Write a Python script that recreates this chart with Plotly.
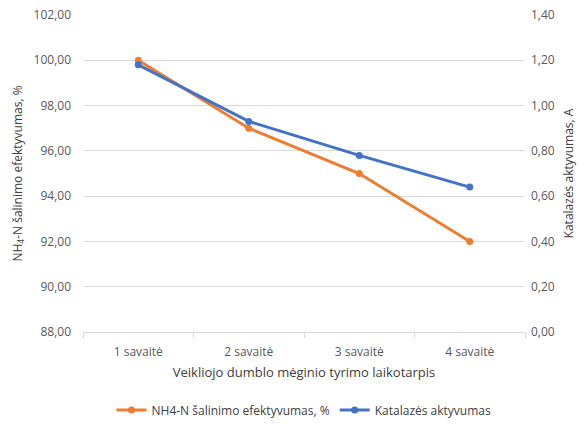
import plotly.graph_objects as go

categories = ["1 savaitė", "2 savaitė", "3 savaitė", "4 savaitė"]
nh4_removal = [100.0, 97.0, 95.0, 92.0]
catalase = [1.18, 0.93, 0.78, 0.64]
left_ticks = [88, 90, 92, 94, 96, 98, 100, 102]
right_ticks = [0, 0.2, 0.4, 0.6, 0.8, 1.0, 1.2, 1.4]

orange = "#ED7D31"
blue = "#4472C4"
font_family = "Open Sans, Liberation Sans, sans-serif"

fig = go.Figure()
fig.add_trace(go.Scatter(
    x=categories, y=nh4_removal, name="NH4-N šalinimo efektyvumas, %",
    mode="lines+markers", line=dict(color=orange, width=3),
    marker=dict(size=7, color=orange), yaxis="y"))
fig.add_trace(go.Scatter(
    x=categories, y=catalase, name="Katalazės aktyvumas",
    mode="lines+markers", line=dict(color=blue, width=3),
    marker=dict(size=7, color=blue), yaxis="y2"))

fig.update_layout(
    width=586, height=425,
    margin=dict(l=83, r=61, t=15, b=93, autoexpand=False),
    paper_bgcolor="white", plot_bgcolor="white",
    separators=",.",
    font=dict(family=font_family, size=12, color="#595959"),
    xaxis=dict(
        type="category", range=[-0.5, 3.5],
        tickson="boundaries", ticks="outside",
        ticklen=5, tickcolor="#D9D9D9",
        showline=True, linecolor="#D9D9D9", linewidth=1,
        showgrid=False, ticklabelstandoff=9,
        title=dict(text="Veikliojo dumblo mėginio tyrimo laikotarpis",
                   font=dict(size=13, color="#404040"), standoff=8),
        tickfont=dict(size=12, color="#595959"),
    ),
    yaxis=dict(
        range=[88, 102], tickvals=left_ticks, tickformat=".2f",
        showgrid=True, gridcolor="#D9D9D9", gridwidth=1,
        zeroline=False, showline=False, ticklabelstandoff=11,
        title=dict(text="NH<sub>4</sub>-N šalinimo efektyvumas, %",
                   font=dict(size=12, color="#404040"), standoff=8),
        tickfont=dict(size=12, color="#595959"),
    ),
    yaxis2=dict(
        range=[0, 1.4], tickvals=right_ticks, tickformat=".2f",
        overlaying="y", side="right", showgrid=False, zeroline=False,
        ticklabelstandoff=5,
        title=dict(text="Katalazės aktyvumas, A",
                   font=dict(size=12, color="#404040"), standoff=10),
        tickfont=dict(size=12, color="#595959"),
    ),
    legend=dict(orientation="h", x=0.5, xanchor="center", y=-0.2,
                yanchor="top", font=dict(size=12, color="#404040"),
                traceorder="normal"),
)

fig.write_html("out.html")
